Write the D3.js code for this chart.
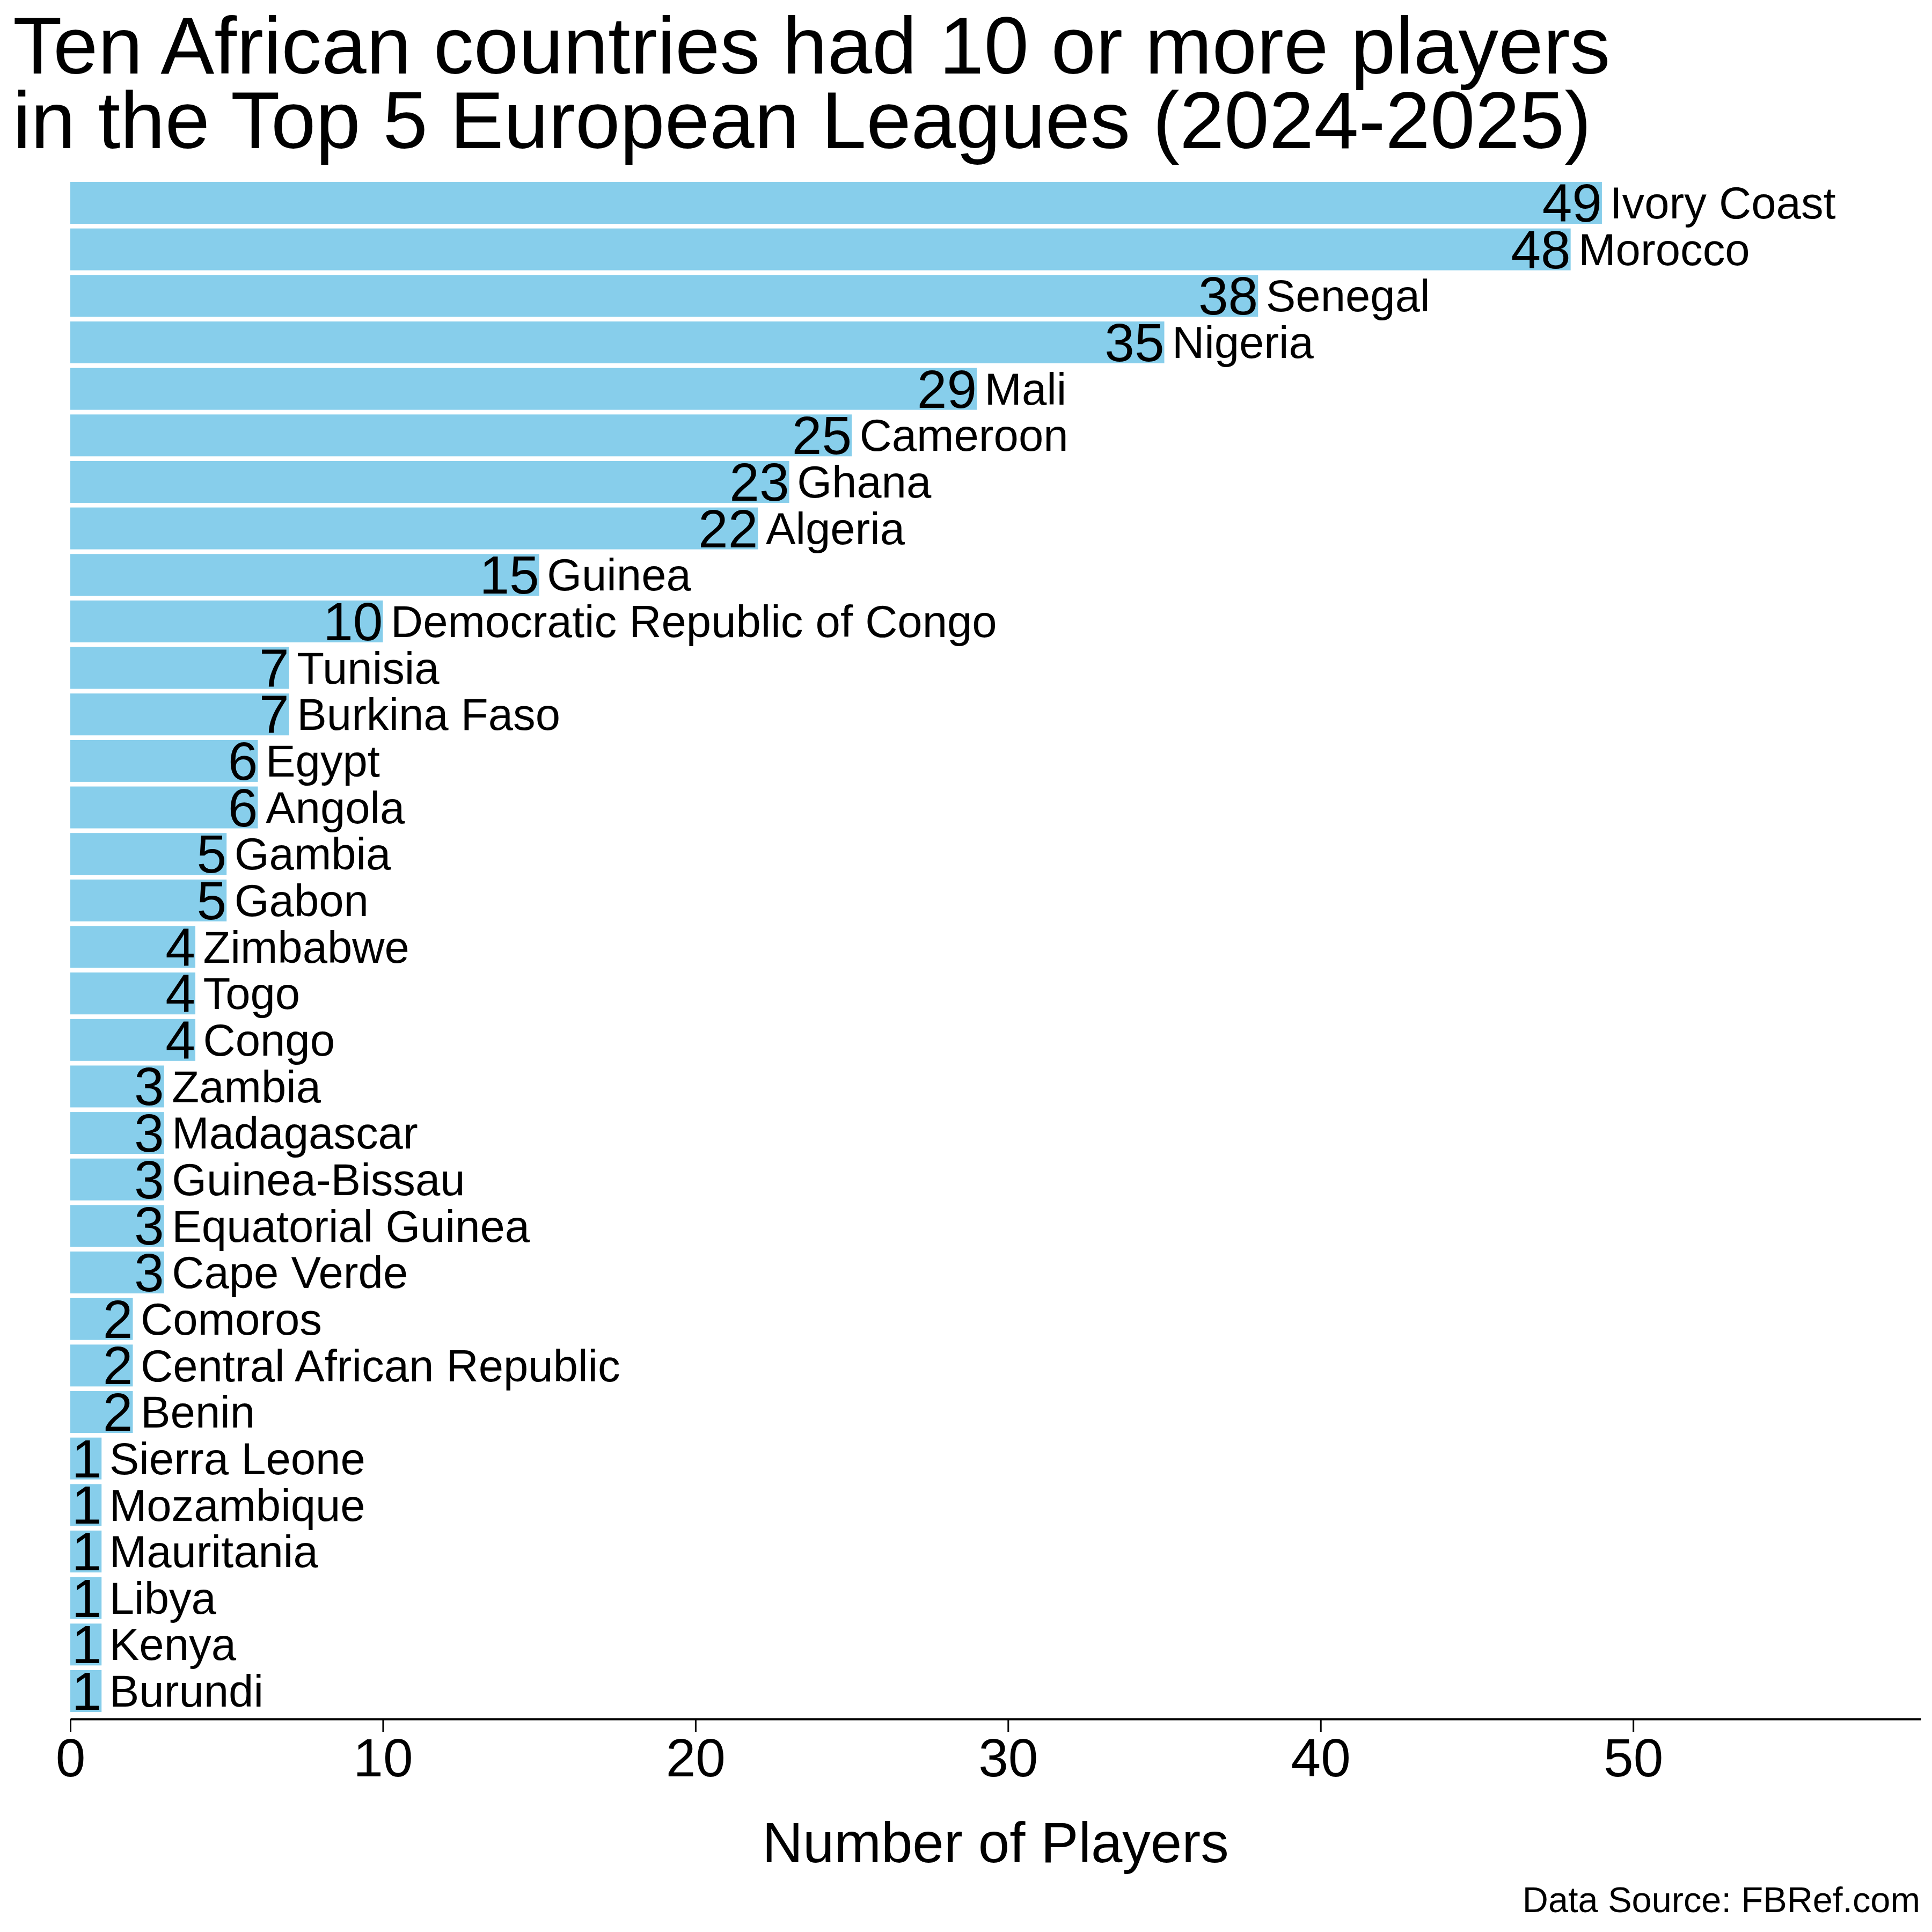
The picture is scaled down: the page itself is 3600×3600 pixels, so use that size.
<!DOCTYPE html>
<html>
<head>
<meta charset="utf-8">
<script src="https://cdn.jsdelivr.net/npm/d3@7"></script>
<style>
  body { margin: 0; background: #fff; }
  svg { font-family: "Liberation Sans", Arial, sans-serif; }
</style>
</head>
<body>
<div id="chart"></div>
<script>
// Countries, top to bottom
const countries = ["Ivory Coast", "Morocco", "Senegal", "Nigeria", "Mali", "Cameroon", "Ghana",
    "Algeria", "Guinea", "Democratic Republic of Congo", "Tunisia", "Burkina Faso", "Egypt",
    "Angola", "Gambia", "Gabon", "Zimbabwe", "Togo", "Congo", "Zambia", "Madagascar",
    "Guinea-Bissau", "Equatorial Guinea", "Cape Verde", "Comoros", "Central African Republic",
    "Benin", "Sierra Leone", "Mozambique", "Mauritania", "Libya", "Kenya", "Burundi"];
const players = [49, 48, 38, 35, 29, 25, 23, 22, 15, 10, 7, 7, 6, 6, 5, 5, 4, 4, 4,
    3, 3, 3, 3, 3, 2, 2, 2, 1, 1, 1, 1, 1, 1];
const xTicks = [0, 10, 20, 30, 40, 50];
const titleLines = ["Ten African countries had 10 or more players",
    "in the Top 5 European Leagues (2024-2025)"];

const data = countries.map((c, i) => ({ country: c, value: players[i] }));

const W = 3600, H = 3600;
const svg = d3.select("#chart").append("svg")
    .attr("width", W)
    .attr("height", H);

svg.append("rect").attr("width", W).attr("height", H).attr("fill", "#fff");

// Title, two lines
svg.append("text")
    .attr("x", 24)
    .attr("font-size", 150)
    .attr("fill", "#000")
    .selectAll("tspan")
    .data(titleLines)
    .enter().append("tspan")
    .attr("x", 24)
    .attr("y", (d, i) => 137 + i * 139)
    .text(d => d);

// Scales
const x = d3.scaleLinear()
    .domain([0, 59.2])
    .range([131, 3579]);

const y = d3.scaleBand()
    .domain(countries)
    .range([334.7, 3194.3])
    .paddingInner(0.1)
    .paddingOuter(0.05);

// Bars
svg.selectAll(".bar")
    .data(data)
    .enter().append("rect")
    .attr("class", "bar")
    .attr("x", x(0))
    .attr("y", d => y(d.country))
    .attr("width", d => x(d.value) - x(0))
    .attr("height", y.bandwidth())
    .attr("fill", "#87CEEB");

// Value labels, right aligned at the bar end
svg.selectAll(".val")
    .data(data)
    .enter().append("text")
    .attr("class", "val")
    .attr("x", d => x(d.value))
    .attr("y", d => y(d.country) + y.bandwidth() / 2)
    .attr("dy", "0.35em")
    .attr("text-anchor", "end")
    .attr("font-size", 100)
    .text(d => d.value);

// Country names just after the bar
svg.selectAll(".name")
    .data(data)
    .enter().append("text")
    .attr("class", "name")
    .attr("x", d => x(d.value + 0.25))
    .attr("y", d => y(d.country) + y.bandwidth() / 2)
    .attr("dy", "0.35em")
    .attr("font-size", 83.3)
    .text(d => d.country);

// X axis
const xAxis = svg.append("g")
    .attr("transform", "translate(0, 3203)")
    .call(d3.axisBottom(x).tickValues(xTicks).tickSize(24).tickSizeOuter(0).tickPadding(12));

xAxis.select(".domain").attr("stroke", "#000").attr("stroke-width", 4.2);
xAxis.selectAll(".tick line").attr("stroke", "#000").attr("stroke-width", 3);
xAxis.selectAll(".tick text")
    .attr("font-size", 100)
    .attr("font-family", "Liberation Sans, Arial, sans-serif")
    .attr("fill", "#000");

// Axis label
svg.append("text")
    .attr("x", (x.range()[0] + x.range()[1]) / 2)
    .attr("y", 3470)
    .attr("text-anchor", "middle")
    .attr("font-size", 105)
    .text("Number of Players");

// Source note
svg.append("text")
    .attr("x", 3578)
    .attr("y", 3563)
    .attr("text-anchor", "end")
    .attr("font-size", 66.7)
    .text("Data Source: FBRef.com");
</script>
</body>
</html>
